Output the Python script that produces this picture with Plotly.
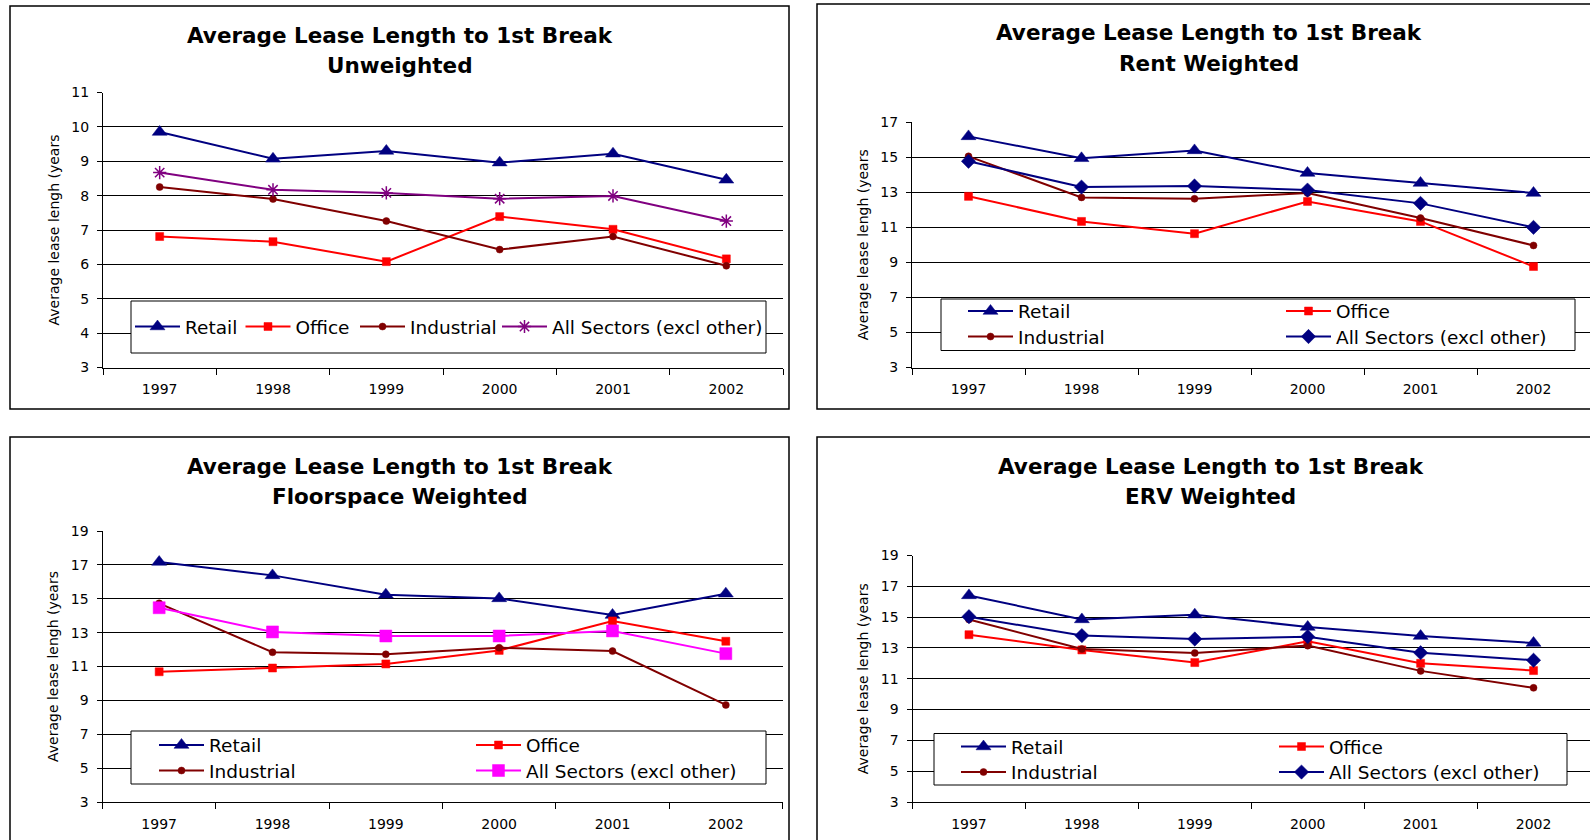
import plotly.graph_objects as go

W, H = 1590, 840

years = ["1997", "1998", "1999", "2000", "2001", "2002"]
series_names = ["Retail", "Office", "Industrial", "All Sectors (excl other)"]
main_title = "Average Lease Length to 1st Break"
y_title = "Average lease lengh (years"

# Unweighted
unw_retail = [9.85, 9.07, 9.30, 8.96, 9.22, 8.46]
unw_office = [6.81, 6.66, 6.08, 7.39, 7.02, 6.16]
unw_industrial = [8.25, 7.90, 7.26, 6.43, 6.81, 5.96]
unw_all = [8.67, 8.17, 8.08, 7.91, 7.99, 7.26]

# Rent weighted
rent_retail = [16.18, 14.93, 15.38, 14.09, 13.52, 12.95]
rent_office = [12.76, 11.33, 10.63, 12.47, 11.33, 8.76]
rent_industrial = [15.04, 12.70, 12.62, 12.95, 11.52, 9.96]
rent_all = [14.76, 13.29, 13.35, 13.12, 12.36, 10.99]

# Floorspace weighted
floor_retail = [17.17, 16.38, 15.24, 15.02, 14.04, 15.30]
floor_office = [10.69, 10.91, 11.15, 11.95, 13.69, 12.49]
floor_industrial = [14.73, 11.84, 11.72, 12.11, 11.91, 8.73]
floor_all = [14.47, 13.04, 12.80, 12.80, 13.10, 11.76]

# ERV weighted
erv_retail = [16.41, 14.85, 15.16, 14.36, 13.77, 13.32]
erv_office = [13.86, 12.87, 12.05, 13.43, 12.00, 11.53]
erv_industrial = [14.85, 12.93, 12.67, 13.15, 11.51, 10.41]
erv_all = [15.03, 13.80, 13.58, 13.73, 12.69, 12.20]

FONT = "DejaVu Sans"
NAVY, RED, DARKRED, PURPLE, MAGENTA = "#000080", "#FF0000", "#800000", "#800080", "#FF00FF"


def px(x):
    return x / W


def py(y):
    return 1 - y / H


base_styles = [
    dict(color=NAVY, symbol="triangle-up", size=13),
    dict(color=RED, symbol="square", size=8),
    dict(color=DARKRED, symbol="circle", size=7),
]
all_styles = {
    "asterisk": dict(color=PURPLE, symbol="asterisk", size=11),
    "diamond": dict(color=NAVY, symbol="diamond", size=11),
    "square": dict(color=MAGENTA, symbol="square", size=12),
}

# pixel layout of each chart: plot area, outer frame, title, legend box and entries
panels = [
    dict(sub="Unweighted", data=[unw_retail, unw_office, unw_industrial, unw_all],
         all_style="asterisk", yrange=[3, 11], dtick=1,
         xdom=(103, 783), ydom=(92.5, 367.5), frame=(10, 6, 789, 409),
         tx=399.5, ty=(35.5, 66), box=(131, 301, 766, 353),
         entries=[(135, 327), (245.5, 327), (360, 327), (502, 327)]),
    dict(sub="Rent Weighted", data=[rent_retail, rent_office, rent_industrial, rent_all],
         all_style="diamond", yrange=[3, 17], dtick=2,
         xdom=(912, 1590), ydom=(122, 367.5), frame=(817, 4, 1600, 409),
         tx=1208.5, ty=(33, 63.5), box=(941, 299, 1575, 350.5),
         entries=[(968, 311.5), (1286, 311.5), (968, 337), (1286, 337)]),
    dict(sub="Floorspace Weighted", data=[floor_retail, floor_office, floor_industrial, floor_all],
         all_style="square", yrange=[3, 19], dtick=2,
         xdom=(102.5, 782.5), ydom=(531, 802), frame=(10, 437, 789, 850),
         tx=399.5, ty=(466, 496.5), box=(131, 731, 766, 784),
         entries=[(159, 745.5), (476, 745.5), (159, 771), (476, 771)]),
    dict(sub="ERV Weighted", data=[erv_retail, erv_office, erv_industrial, erv_all],
         all_style="diamond", yrange=[3, 19], dtick=2,
         xdom=(912.5, 1590), ydom=(555.5, 802), frame=(817, 437, 1600, 850),
         tx=1210.5, ty=(466, 496.5), box=(934, 733.5, 1567, 785),
         entries=[(961, 747), (1279, 747), (961, 772.5), (1279, 772.5)]),
]

fig = go.Figure()
layout = dict(
    width=W, height=H,
    margin=dict(l=0, r=0, t=0, b=0, pad=0, autoexpand=False),
    paper_bgcolor="white", plot_bgcolor="white",
    font=dict(family=FONT, color="black"),
    showlegend=True,
    shapes=[], annotations=[],
)

legend_no = 0
for i, p in enumerate(panels):
    k = "" if i == 0 else str(i + 1)
    xa, ya = "x" + k, "y" + k
    styles = base_styles + [all_styles[p["all_style"]]]
    for name, vals, st, (lx, ly) in zip(series_names, p["data"], styles, p["entries"]):
        legend_no += 1
        lg = "legend" if legend_no == 1 else "legend%d" % legend_no
        marker = dict(color=st["color"], symbol=st["symbol"], size=st["size"],
                      line=dict(color=st["color"], width=1.5 if st["symbol"] == "asterisk" else 0.5))
        fig.add_trace(go.Scatter(
            x=years, y=vals, name=name, mode="lines+markers",
            line=dict(color=st["color"], width=2), marker=marker,
            xaxis=xa, yaxis=ya, legend=lg, showlegend=True, cliponaxis=False,
        ))
        layout[lg] = dict(
            x=px(lx - 5), y=py(ly), xanchor="left", yanchor="middle",
            bgcolor="rgba(0,0,0,0)", borderwidth=0, itemwidth=45,
            font=dict(family=FONT, size=18.5, color="black"),
        )

    layout["xaxis" + k] = dict(
        domain=[px(p["xdom"][0]), px(p["xdom"][1])], anchor=ya, automargin=False,
        type="category", range=[-0.5, 5.5], showgrid=False, zeroline=False,
        showline=True, linecolor="black", linewidth=1,
        ticks="outside", tickson="boundaries", ticklen=6, tickcolor="black", tickwidth=1,
        tickfont=dict(family=FONT, size=14, color="black"), ticklabelstandoff=9,
    )
    layout["yaxis" + k] = dict(
        domain=[py(p["ydom"][1]), py(p["ydom"][0])], anchor=xa, automargin=False,
        range=p["yrange"], tick0=3, dtick=p["dtick"], zeroline=False,
        showgrid=True, gridcolor="black", gridwidth=1,
        showline=True, linecolor="black", linewidth=1,
        ticks="outside", ticklen=5, tickcolor="black", tickwidth=1,
        tickfont=dict(family=FONT, size=14, color="black"), ticklabelstandoff=5,
        title=dict(text=y_title, font=dict(family=FONT, size=14, color="black"), standoff=8),
    )

    fx0, fy0, fx1, fy1 = p["frame"]
    layout["shapes"].append(dict(
        type="rect", xref="paper", yref="paper", layer="below",
        x0=px(fx0), x1=px(fx1), y0=py(fy1), y1=py(fy0),
        line=dict(color="black", width=1.5), fillcolor="rgba(0,0,0,0)",
    ))
    bx0, by0, bx1, by1 = p["box"]
    layout["shapes"].append(dict(
        type="rect", xref="paper", yref="paper", layer="above",
        x0=px(bx0), x1=px(bx1), y0=py(by1), y1=py(by0),
        line=dict(color="black", width=1), fillcolor="white",
    ))
    for text, ty in zip([main_title, p["sub"]], p["ty"]):
        layout["annotations"].append(dict(
            text="<b>%s</b>" % text, xref="paper", yref="paper",
            x=px(p["tx"]), y=py(ty), xanchor="center", yanchor="middle",
            showarrow=False, font=dict(family=FONT, size=21.5, color="black"),
        ))

fig.update_layout(**layout)
fig.write_html("out.html")
